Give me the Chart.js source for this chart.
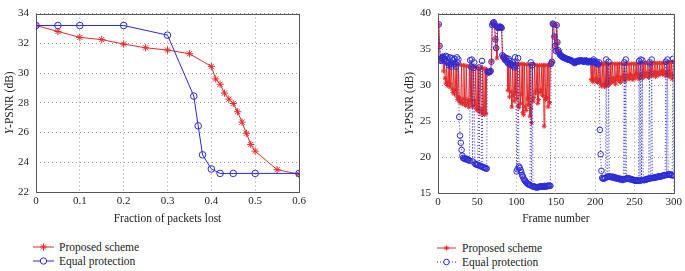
<!DOCTYPE html>
<html>
<head>
<meta charset="utf-8">
<script src="https://cdn.jsdelivr.net/npm/chart.js@4/dist/chart.umd.min.js"></script>
<style>
  html, body { margin: 0; padding: 0; background: #fff; }
  body { width: 685px; height: 271px; position: relative; overflow: hidden; font-family: "Liberation Serif", "DejaVu Serif", serif; color: #222; }
  #wrapA { position: absolute; left: 0; top: 0; width: 315px; height: 232px; }
  #wrapB { position: absolute; left: 385px; top: 0; width: 300px; height: 232px; }
  .legend { position: absolute; font-size: 11.5px; }
  .legend div { display: flex; align-items: center; height: 14px; }
  .legend svg { display: block; }
  #legA { left: 33px; top: 240px; }
  #legA svg { margin-right: 5px; }
  #legB { left: 437px; top: 241px; }
  #legB svg { margin-right: 6px; }
</style>
</head>
<body>
<div id="wrapA"><canvas id="chartA"></canvas></div>
<div id="wrapB"><canvas id="chartB"></canvas></div>

<div class="legend" id="legA">
  <div>
    <svg width="21" height="10"><line x1="0" y1="5" x2="21" y2="5" stroke="#e32b2b"/><g stroke="#e32b2b"><line x1="7" y1="5" x2="14" y2="5"/><line x1="10.5" y1="1.5" x2="10.5" y2="8.5"/><line x1="8" y1="2.5" x2="13" y2="7.5"/><line x1="8" y1="7.5" x2="13" y2="2.5"/></g></svg>
    <span>Proposed scheme</span>
  </div>
  <div>
    <svg width="21" height="10"><line x1="0" y1="5" x2="21" y2="5" stroke="#2a2ad8"/><circle cx="10.5" cy="5" r="3.2" fill="#fff" stroke="#2a2ad8"/></svg>
    <span>Equal protection</span>
  </div>
</div>

<div class="legend" id="legB">
  <div>
    <svg width="19" height="10"><line x1="0" y1="5" x2="19" y2="5" stroke="#e32b2b"/><g stroke="#e32b2b"><line x1="7" y1="5" x2="12" y2="5"/><line x1="9.5" y1="2.5" x2="9.5" y2="7.5"/><line x1="7.7" y1="3.2" x2="11.3" y2="6.8"/><line x1="7.7" y1="6.8" x2="11.3" y2="3.2"/></g></svg>
    <span>Proposed scheme</span>
  </div>
  <div>
    <svg width="19" height="10"><line x1="0" y1="5" x2="19" y2="5" stroke="#2a2ad8" stroke-dasharray="1,2"/><circle cx="9.5" cy="5" r="2.8" fill="#fff" stroke="#2a2ad8"/></svg>
    <span>Equal protection</span>
  </div>
</div>

<script>
// left panel: PSNR vs fraction of packets lost
const lossProposed = [0, 0.05, 0.1, 0.15, 0.2, 0.25, 0.3, 0.35, 0.4, 0.41, 0.42, 0.43, 0.44, 0.45, 0.46, 0.47, 0.48, 0.49, 0.5, 0.55, 0.6];
const psnrProposed = [33.2, 32.8, 32.4, 32.25, 31.95, 31.7, 31.55, 31.3, 30.45, 29.6, 29.25, 28.65, 28.25, 27.95, 27.4, 26.7, 25.95, 25.2, 24.75, 23.5, 23.2];
const lossEqual = [0, 0.05, 0.1, 0.2, 0.3, 0.36, 0.37, 0.38, 0.4, 0.42, 0.45, 0.5, 0.6];
const psnrEqual = [33.2, 33.2, 33.2, 33.2, 32.55, 28.45, 26.45, 24.5, 23.55, 23.25, 23.25, 23.25, 23.25];
const lossTicks = [0, 0.1, 0.2, 0.3, 0.4, 0.5, 0.6];
const psnrTicksA = [22, 24, 26, 28, 30, 32, 34];

// right panel: PSNR per frame (frames 1..300)
const frameProposed = [
  38.5, 35.5, 33.6, 33.4, 33.8, 34.1, 32.0, 33.2, 31.0, 30.3,
  33.1, 30.0, 30.5, 33.0, 29.8, 30.2, 33.0, 29.5, 29.0, 33.0,
  28.8, 29.3, 33.0, 28.5, 28.0, 32.9, 28.3, 27.6, 27.9, 32.8,
  27.4, 28.1, 32.8, 27.6, 27.2, 32.7, 28.0, 27.5, 27.0, 32.7,
  27.8, 32.6, 27.3, 27.0, 32.6, 27.9, 27.2, 32.5, 26.8, 26.5,
  32.5, 26.9, 26.3, 32.4, 26.6, 26.0, 32.4, 26.3, 25.9, 32.3,
  26.1, 32.2, 31.9, 31.8, 31.8, 31.9, 32.0, 33.3, 38.4, 38.7,
  38.8, 38.5, 36.4, 35.2, 33.8, 38.1, 38.0, 38.1, 38.2, 38.1,
  38.0, 34.2, 33.9, 34.0, 33.6, 33.5, 33.8, 33.3, 29.3, 33.0,
  28.4, 33.0, 29.1, 27.0, 33.0, 28.6, 27.8, 33.0, 29.0, 28.2,
  33.0, 27.2, 26.9, 33.0, 27.5, 28.8, 33.0, 26.2, 25.9, 32.9,
  27.0, 26.5, 32.9, 28.1, 27.3, 32.9, 25.7, 26.8, 24.8, 32.9,
  27.8, 28.3, 32.9, 28.9, 29.3, 32.8, 27.5, 28.0, 32.8, 29.0,
  29.4, 32.8, 28.6, 32.8, 24.3, 32.8, 28.0, 28.3, 32.8, 27.0,
  32.8, 27.6, 32.8, 33.0, 33.3, 38.6, 38.5, 36.8, 35.5, 34.8,
  38.4, 36.0, 34.9, 34.6, 34.3, 34.2, 34.1, 34.0, 33.9, 33.9,
  33.8, 33.8, 33.7, 33.7, 33.6, 33.6, 33.6, 33.5, 33.5, 33.4,
  33.4, 33.3, 33.2, 33.1, 33.2, 33.3, 33.4, 33.4, 33.3, 33.5,
  33.4, 33.4, 33.5, 33.4, 33.3, 33.3, 33.4, 33.5, 33.4, 33.3,
  33.2, 33.3, 33.4, 33.3, 30.8, 33.2, 30.5, 30.9, 33.3, 30.6,
  33.1, 31.0, 30.4, 33.0, 30.7, 33.0, 30.3, 29.9, 33.0, 30.1,
  33.0, 29.8, 30.2, 33.0, 29.9, 33.0, 30.6, 30.1, 33.0, 30.8,
  30.4, 33.0, 31.0, 30.5, 33.0, 30.2, 30.9, 33.0, 31.2, 30.7,
  33.0, 30.4, 31.1, 33.0, 30.8, 31.3, 33.0, 30.6, 30.9, 33.0,
  31.4, 31.0, 33.0, 30.9, 31.5, 33.0, 31.2, 30.8, 33.0, 31.4,
  31.0, 33.0, 31.6, 31.2, 33.0, 30.9, 31.5, 33.1, 31.3, 31.0,
  33.1, 31.6, 31.2, 33.1, 31.4, 31.8, 33.1, 31.1, 31.5, 33.1,
  31.7, 31.3, 33.1, 31.5, 31.9, 33.1, 31.2, 31.6, 33.1, 31.8,
  31.4, 33.1, 31.7, 32.0, 33.1, 31.5, 31.9, 33.1, 31.6, 31.3,
  33.2, 31.8, 31.4, 33.2, 31.2, 31.7, 33.2, 30.9, 31.4, 33.3
];
const frameEqual = [
  38.5, 35.5, 33.6, 33.4, 33.8, 34.0, 33.9, 33.5, 33.7, 34.1,
  33.2, 34.0, 33.1, 32.8, 33.9, 33.0, 32.6, 33.8, 33.5, 32.9,
  33.7, 33.0, 32.6, 33.9, 33.2, 33.6, 25.6, 23.0, 22.0, 21.0,
  20.2, 19.9, 19.8, 19.8, 19.7, 19.8, 19.7, 19.6, 19.6, 19.5,
  33.5, 32.6, 33.6, 19.4, 32.4, 33.2, 19.1, 19.0, 19.0, 18.9,
  18.9, 32.5, 18.8, 18.8, 18.7, 33.4, 18.6, 18.6, 18.5, 18.5,
  18.4, 18.4, 31.9, 31.8, 31.8, 31.9, 32.0, 33.3, 38.4, 38.7,
  38.8, 38.5, 36.4, 35.2, 38.2, 38.1, 38.0, 38.1, 38.2, 38.1,
  38.0, 34.2, 33.9, 34.0, 33.6, 33.5, 33.8, 33.3, 33.1, 33.7,
  33.4, 33.0, 32.8, 32.9, 33.2, 32.7, 32.5, 33.9, 32.8, 18.0,
  18.3, 33.8, 18.7, 18.5, 18.2, 17.9, 17.5, 17.3, 17.0, 16.8,
  16.7, 16.5, 16.4, 16.3, 16.2, 16.2, 16.1, 33.2, 16.0, 32.8,
  15.9, 15.9, 15.9, 15.8, 15.8, 15.8, 15.8, 15.8, 15.9, 15.9,
  15.9, 15.9, 15.9, 15.9, 15.9, 16.0, 15.9, 15.9, 16.0, 16.0,
  16.0, 16.0, 16.0, 33.0, 33.3, 38.6, 38.5, 36.8, 35.5, 34.8,
  38.4, 36.0, 34.9, 34.6, 34.3, 34.2, 34.1, 34.0, 33.9, 33.9,
  33.8, 33.8, 33.7, 33.7, 33.6, 33.6, 33.6, 33.5, 33.5, 33.4,
  33.4, 33.3, 33.2, 33.1, 33.2, 33.3, 33.4, 33.4, 33.3, 33.5,
  33.4, 33.4, 33.5, 33.4, 33.3, 33.3, 33.4, 33.5, 33.4, 33.3,
  33.2, 33.3, 33.4, 33.3, 33.3, 33.2, 33.4, 33.6, 33.3, 33.2,
  33.1, 33.3, 33.0, 32.9, 33.2, 23.8, 20.4, 18.1, 17.1, 17.0,
  17.0, 17.1, 17.1, 33.6, 17.2, 17.3, 33.3, 17.3, 17.3, 17.2,
  17.2, 17.3, 17.2, 17.1, 17.2, 17.1, 17.0, 17.1, 17.0, 17.0,
  16.9, 17.0, 16.9, 16.9, 16.8, 16.9, 33.2, 16.9, 33.6, 17.0,
  17.1, 17.0, 17.0, 16.9, 17.0, 16.9, 16.9, 16.8, 16.8, 16.8,
  16.7, 16.7, 16.8, 16.7, 16.7, 33.4, 16.7, 33.6, 16.8, 33.5,
  16.8, 16.8, 16.8, 16.9, 16.9, 16.9, 17.0, 17.0, 33.2, 17.0,
  17.1, 33.6, 17.1, 17.1, 17.1, 17.2, 17.2, 17.2, 17.2, 17.3,
  17.3, 17.3, 17.3, 17.3, 17.4, 17.4, 17.4, 17.5, 17.5, 33.3,
  17.5, 33.6, 17.6, 17.6, 17.6, 17.5, 17.5, 17.5, 33.7, 17.4
];
const frameTicks = [0, 50, 100, 150, 200, 250, 300];
const psnrTicksB = [15, 20, 25, 30, 35, 40];

const RED = "#e32b2b";
const BLUE = "#2a2ad8";
const FONT = '"Liberation Serif", "DejaVu Serif", serif';

// frame index is just the x position of each sample
const frames = frameProposed.map((_, i) => i + 1);

const toXY = (xs, ys) => xs.map((x, i) => ({ x, y: ys[i] }));

// full box round the plot area (matlab style)
const boxPlugin = {
  id: "box",
  beforeDatasetsDraw(chart) {
    const { ctx, chartArea: a } = chart;
    ctx.save();
    ctx.strokeStyle = "#555";
    ctx.lineWidth = 1;
    ctx.strokeRect(Math.round(a.left) + 0.5, Math.round(a.top) + 0.5, Math.round(a.right - a.left), Math.round(a.bottom - a.top));
    ctx.restore();
  }
};

// y title with an italic "Y"
const yTitlePlugin = {
  id: "yTitle",
  afterDraw(chart, args, opts) {
    const { ctx, chartArea: a } = chart;
    const cy = (a.top + a.bottom) / 2;
    const italic = `italic 11.5px ${FONT}`;
    const normal = `11.5px ${FONT}`;
    ctx.save();
    ctx.translate(opts.x, cy);
    ctx.rotate(-Math.PI / 2);
    ctx.fillStyle = "#222";
    ctx.textBaseline = "middle";
    ctx.textAlign = "left";
    ctx.font = italic;
    const w1 = ctx.measureText("Y").width;
    ctx.font = normal;
    const w2 = ctx.measureText("-PSNR (dB)").width;
    const x0 = -(w1 + w2) / 2;
    ctx.font = italic;
    ctx.fillText("Y", x0, 0);
    ctx.font = normal;
    ctx.fillText("-PSNR (dB)", x0 + w1, 0);
    ctx.restore();
  }
};

const gridOpts = { color: "#9a9a9a", lineWidth: 1, drawTicks: false };
const tickFont = { family: FONT, size: 11 };

const axes = (xTicks, yTicks, xTitle, yWidth, xHeight) => ({
  x: {
    type: "linear",
    min: xTicks[0],
    max: xTicks[xTicks.length - 1],
    afterBuildTicks: (s) => { s.ticks = xTicks.map((v) => ({ value: v })); },
    afterFit: (s) => { s.height = xHeight; },
    grid: gridOpts,
    border: { display: false, dash: [1, 3] },
    ticks: { font: tickFont, color: "#222", padding: 3, maxRotation: 0 },
    title: { display: true, text: xTitle, font: { family: FONT, size: 11.5 }, color: "#222", padding: { top: 0, bottom: 6 } }
  },
  y: {
    min: yTicks[0],
    max: yTicks[yTicks.length - 1],
    afterBuildTicks: (s) => { s.ticks = yTicks.map((v) => ({ value: v })); },
    afterFit: (s) => { s.width = yWidth; },
    grid: gridOpts,
    border: { display: false, dash: [1, 3] },
    ticks: { font: tickFont, color: "#222", padding: 7 }
  }
});

new Chart(document.getElementById("chartA"), {
  type: "line",
  data: {
    datasets: [
      {
        label: "Equal protection",
        data: toXY(lossEqual, psnrEqual),
        borderColor: BLUE,
        backgroundColor: "rgba(0,0,0,0)",
        borderWidth: 1,
        pointStyle: "circle",
        pointRadius: 3.3,
        pointBorderWidth: 1,
        order: 1
      },
      {
        label: "Proposed scheme",
        data: toXY(lossProposed, psnrProposed),
        borderColor: RED,
        backgroundColor: RED,
        borderWidth: 1,
        pointStyle: "star",
        pointRadius: 3.6,
        pointBorderWidth: 1,
        order: 2
      }
    ]
  },
  options: {
    responsive: true,
    maintainAspectRatio: false,
    animation: false,
    layout: { padding: { left: 0, top: 7, right: 16, bottom: 0 } },
    scales: axes(lossTicks, psnrTicksA, "Fraction of packets lost", 36, 40),
    plugins: { legend: { display: false }, tooltip: { enabled: false }, yTitle: { x: 10 } }
  },
  plugins: [boxPlugin, yTitlePlugin]
});

new Chart(document.getElementById("chartB"), {
  type: "line",
  data: {
    datasets: [
      {
        label: "Equal protection",
        data: toXY(frames, frameEqual),
        borderColor: BLUE,
        backgroundColor: "rgba(0,0,0,0)",
        borderWidth: 0.9,
        borderDash: [1, 2],
        pointStyle: "circle",
        pointRadius: 2.8,
        pointBorderWidth: 1,
        order: 1
      },
      {
        label: "Proposed scheme",
        data: toXY(frames, frameProposed),
        borderColor: RED,
        backgroundColor: RED,
        borderWidth: 1,
        pointStyle: "star",
        pointRadius: 2.4,
        pointBorderWidth: 1,
        order: 2
      }
    ]
  },
  options: {
    responsive: true,
    maintainAspectRatio: false,
    animation: false,
    layout: { padding: { left: 0, top: 7, right: 10, bottom: 0 } },
    scales: axes(frameTicks, psnrTicksB, "Frame number", 53, 39),
    plugins: { legend: { display: false }, tooltip: { enabled: false }, yTitle: { x: 25 } }
  },
  plugins: [boxPlugin, yTitlePlugin]
});
</script>
</body>
</html>
